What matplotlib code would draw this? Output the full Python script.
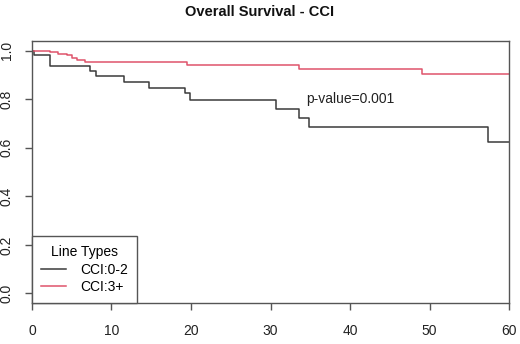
import matplotlib
matplotlib.use("Agg")
import matplotlib.pyplot as plt

plt.rcParams['font.family'] = ['Liberation Sans', 'DejaVu Sans']

# Kaplan-Meier step curves (months, survival)
t_low = [0, 0.3, 2.3, 7.3, 8.0, 11.6, 14.7, 19.2, 19.9, 30.7, 33.6, 34.9, 57.3, 60]
s_low = [1.0, 0.983, 0.937, 0.915, 0.896, 0.871, 0.847, 0.825, 0.797, 0.759, 0.722, 0.685, 0.623, 0.623]

t_high = [0, 2.3, 3.3, 4.4, 5.0, 5.6, 6.7, 19.5, 33.6, 49.0, 60]
s_high = [1.0, 0.993, 0.987, 0.98, 0.97, 0.963, 0.953, 0.941, 0.924, 0.904, 0.904]

labels = ["CCI:0-2", "CCI:3+"]
xticks = [0, 10, 20, 30, 40, 50, 60]
yticks = [0.0, 0.2, 0.4, 0.6, 0.8, 1.0]

fig = plt.figure(figsize=(5.2, 3.44), dpi=100)
ax = fig.add_axes([0.0615, 0.119, 0.9175, 0.762])

ax.plot(t_low, s_low, drawstyle='steps-post', color='#3a3a3a', lw=1.1, label=labels[0])
ax.plot(t_high, s_high, drawstyle='steps-post', color='#DF536B', lw=1.1, label=labels[1])

ax.set_xlim(0, 60)
ax.set_ylim(-0.04, 1.04)
ax.set_xticks(xticks)
ax.set_yticks(yticks)
ax.set_xticklabels([str(v) for v in xticks])
ax.set_yticklabels(["%.1f" % v for v in yticks], rotation=90, va='center')
ax.tick_params(colors='#555555', labelcolor='#222222', labelsize=10, length=5, width=1)
ax.tick_params(axis='x', pad=10)
ax.tick_params(axis='y', pad=8)
for sp in ax.spines.values():
    sp.set_color('#555555')
    sp.set_linewidth(1)

ax.text(40, 0.8, "p-value=0.001", ha='center', va='center', fontsize=10, color='#222222')
fig.suptitle("Overall Survival - CCI", fontsize=10.5, fontweight='bold', y=0.985, color='#111111')

leg = ax.legend(loc='lower left', title='Line Types', fancybox=False, borderaxespad=0,
                fontsize=10, title_fontsize=10, handlelength=1.8, framealpha=1,
                borderpad=0.65, labelspacing=0.25, handletextpad=1.0)
leg.get_frame().set_edgecolor('#555555')
leg.get_frame().set_linewidth(1)

fig.savefig("out.png", dpi=100)
